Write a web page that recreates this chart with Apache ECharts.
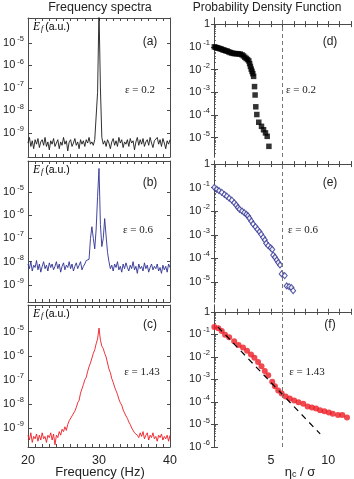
<!DOCTYPE html>
<html><head><meta charset="utf-8">
<script src="https://cdn.jsdelivr.net/npm/echarts@6/dist/echarts.min.js"></script>
<style>html,body{margin:0;padding:0;background:#fff}#c{width:354px;height:479px}</style>
</head><body><div id="c"></div>
<script>
// ---------- DATA ----------
// frequency axis samples (Hz)
const freqHz = [20.0,20.2,20.4,20.6,20.8,21.0,21.2,21.4,21.6,21.8,22.0,22.2,22.4,22.6,22.8,23.0,23.2,23.4,23.6,23.8,
24.0,24.2,24.4,24.6,24.8,25.0,25.2,25.4,25.6,25.8,26.0,26.2,26.4,26.6,26.8,27.0,27.2,27.4,27.6,27.8,
28.0,28.2,28.4,28.6,28.8,29.0,29.2,29.4,29.6,29.8,30.0,30.2,30.4,30.6,30.8,31.0,31.2,31.4,31.6,31.8,
32.0,32.2,32.4,32.6,32.8,33.0,33.2,33.4,33.6,33.8,34.0,34.2,34.4,34.6,34.8,35.0,35.2,35.4,35.6,35.8,
36.0,36.2,36.4,36.6,36.8,37.0,37.2,37.4,37.6,37.8,38.0,38.2,38.4,38.6,38.8,39.0,39.2,39.4,39.6,39.8,40.0];
// log10 of spectral energy E_f (a.u.)
const specA_log10 = [-9.45,-9.2,-9.6,-9.35,-9.7,-9.3,-9.5,-9.25,-9.65,-9.4,
-9.3,-9.55,-9.2,-9.6,-9.4,-9.75,-9.35,-9.5,-9.25,-9.6,
-9.45,-9.3,-9.7,-9.4,-9.55,-9.2,-9.5,-9.35,-9.8,-9.4,
-9.3,-9.6,-9.45,-9.25,-9.55,-9.4,-9.7,-9.3,-9.5,-9.35,
-9.6,-9.3,-9.45,-9.2,-9.5,-9.4,-9.55,-9.3,-9.25,-7.2,
-3.5,-7.0,-9.2,-9.5,-9.35,-9.6,-9.3,-9.45,-9.7,-9.4,
-9.25,-9.55,-9.35,-9.6,-9.2,-9.45,-9.3,-9.65,-9.4,-9.5,
-9.3,-9.6,-9.25,-9.45,-9.35,-9.75,-9.4,-9.2,-9.55,-9.3,
-9.5,-9.25,-9.6,-9.4,-9.3,-9.55,-9.2,-9.45,-9.65,-9.35,
-9.4,-9.2,-9.5,-9.3,-9.6,-9.25,-9.45,-9.7,-9.35,-9.5,-9.3];
const specB_log10 = [-8.1,-8.3,-8.0,-8.4,-8.15,-8.25,-7.95,-8.35,-8.1,-8.45,
-8.2,-8.0,-8.3,-8.15,-8.4,-8.05,-8.25,-8.1,-8.35,-8.2,
-8.0,-8.3,-8.1,-8.45,-8.2,-8.05,-8.35,-8.15,-8.25,-8.0,
-8.3,-8.1,-8.4,-8.2,-8.05,-8.3,-8.15,-8.0,-8.35,-8.2,
-8.1,-7.95,-8.0,-7.9,-7.0,-6.5,-7.0,-7.45,-6.6,-5.2,
-4.0,-6.4,-7.35,-7.0,-6.15,-6.9,-7.6,-8.0,-8.3,-8.15,
-8.4,-8.1,-8.25,-8.0,-8.35,-8.2,-8.45,-8.1,-8.3,-8.05,
-8.25,-8.4,-8.15,-8.3,-8.0,-8.35,-8.2,-8.5,-8.1,-8.3,
-8.2,-8.4,-8.05,-8.3,-8.15,-8.45,-8.25,-8.1,-8.35,-8.2,
-8.3,-8.1,-8.4,-8.25,-8.5,-8.15,-8.35,-8.2,-8.45,-8.1,-8.25];
const specC_log10 = [-9.3,-9.5,-9.2,-9.6,-9.35,-9.45,-9.25,-9.55,-9.3,-9.5,
-9.2,-9.45,-9.35,-9.6,-9.3,-9.4,-9.2,-9.5,-9.25,-9.7,
-9.3,-9.4,-9.15,-9.3,-9.05,-9.15,-8.95,-9.1,-8.85,-8.7,
-8.75,-8.5,-8.45,-8.3,-8.15,-7.95,-7.85,-7.55,-7.5,-7.2,
-7.0,-6.9,-6.65,-6.45,-6.3,-6.1,-5.9,-5.75,-5.5,-5.3,
-4.85,-5.35,-5.6,-5.7,-5.9,-6.05,-6.3,-6.55,-6.7,-6.95,
-7.1,-7.3,-7.45,-7.6,-7.8,-7.95,-8.05,-8.25,-8.3,-8.5,
-8.6,-8.75,-8.85,-9.0,-9.05,-9.2,-9.15,-9.3,-9.4,-9.2,
-9.35,-9.15,-9.45,-9.3,-9.2,-9.5,-9.3,-9.4,-9.2,-9.45,
-9.35,-9.55,-9.3,-9.4,-9.25,-9.5,-9.35,-9.45,-9.3,-9.55,-9.3];
// PDF panels: x = eta_c / sigma, y = log10 of probability density
const pdfD_x = [0.03,0.15,0.27,0.40,0.52,0.65,0.78,0.90,1.03,1.16,1.29,1.42,1.56,1.70,1.85,2.00,2.15,2.30,2.45,2.58,
2.70,2.82,2.94,3.05,3.12,3.19,3.26,3.33,3.40,3.47,3.55,3.60,3.66,3.75,3.92,4.16,4.34,4.51,4.66,4.81];
const pdfD_log10 = [-1.00,-1.02,-1.04,-1.06,-1.08,-1.10,-1.13,-1.15,-1.17,-1.19,-1.22,-1.25,-1.27,-1.29,-1.30,-1.30,-1.31,-1.32,-1.35,-1.40,
-1.46,-1.51,-1.56,-1.62,-1.74,-1.86,-1.98,-2.08,-2.18,-2.30,-2.75,-3.12,-3.64,-3.98,-4.32,-4.50,-4.65,-4.79,-4.94,-5.38];
const pdfE_x = [0.03,0.24,0.44,0.68,0.91,1.12,1.33,1.56,1.77,1.95,2.09,2.24,2.45,2.65,2.83,2.98,3.10,3.27,3.42,3.63,
3.81,3.98,4.13,4.31,4.45,4.57,4.75,4.96,5.10,5.19,5.34,5.49,5.63,5.78,5.93,6.19,6.37,6.58,6.78,6.93];
const pdfE_log10 = [-0.99,-1.07,-1.13,-1.20,-1.29,-1.36,-1.45,-1.53,-1.64,-1.74,-1.84,-1.92,-1.99,-2.06,-2.13,-2.20,-2.30,-2.42,-2.54,-2.66,
-2.77,-2.87,-2.98,-3.11,-3.22,-3.36,-3.46,-3.55,-3.62,-3.86,-3.95,-4.07,-4.18,-4.28,-4.66,-4.73,-5.17,-5.20,-5.24,-5.37];
const pdfF_x = [0.03,0.38,0.68,0.97,1.33,1.77,2.15,2.54,2.89,3.24,3.54,3.86,4.16,4.45,4.75,5.10,5.34,5.63,5.93,6.28,
6.64,7.02,7.40,7.82,8.20,8.58,8.94,9.29,9.67,10.06,10.40,10.86,11.24,11.65];
const pdfF_log10 = [-0.68,-0.73,-0.85,-1.02,-1.13,-1.31,-1.47,-1.59,-1.73,-1.90,-2.04,-2.23,-2.42,-2.63,-2.82,-3.10,-3.31,-3.49,-3.63,-3.76,
-3.85,-3.94,-4.01,-4.08,-4.20,-4.25,-4.29,-4.37,-4.41,-4.47,-4.53,-4.58,-4.58,-4.69];
const fitF_x = [0.35, 9.3];
const fitF_log10 = [-0.68, -5.42];
const thresholdX = 6;
// tick labels
const specTicks = [-9,-8,-7,-6,-5];
const pdfTicksDE = [-5,-4,-3,-2,-1,0];
const pdfTicksF = [-6,-5,-4,-3,-2,-1,0];
const freqLabels = [20,30,40];
const etaLabels = [5,10];
const epsLabels = ['ε = 0.2','ε = 0.6','ε = 1.43'];
const panelTags = ['(a)','(b)','(c)','(d)','(e)','(f)'];

// ---------- CHART ----------
const SANS = 'Liberation Sans, Arial, sans-serif';
const SERIF = 'Liberation Serif, Times New Roman, serif';
const AX = '#4a4a4a';
const zip = (xs, ys) => xs.map((x, i) => [x, ys[i]]);

const leftL = 28, leftW = 142, rightL = 214, rightW = 137;
const rows = [{top: 18, h: 139}, {top: 161, h: 141}, {top: 305, h: 142}];
const grids = [];
rows.forEach(r => grids.push({left: leftL, top: r.top, width: leftW, height: r.h, show: false}));
rows.forEach(r => grids.push({left: rightL, top: r.top, width: rightW, height: r.h, show: false}));

const specRanges = [[-10.07, -3.89], [-9.73, -3.68], [-9.79, -3.89]];
const pdfRanges = [[-5.85, 0.27], [-5.85, 0.13], [-6.0, 0.3]];

// log-decade minor tick positions (axis decoration only)
const minorTicks = (lo, hi) => {
  const out = [];
  for (let n = Math.floor(lo); n <= Math.ceil(hi); n++)
    for (let k = 2; k <= 9; k++) { const v = n + Math.log10(k); if (v > lo && v < hi) out.push(v); }
  return out;
};

const expFmt = v => v === 0 ? '1' : '{b|10}{s|' + v + '}';
const richLbl = {b: {fontSize: 11, fontFamily: SANS, color: '#222'},
                 s: {fontSize: 7.5, fontFamily: SANS, color: '#222', padding: [0, 0, 8, 2]}};

const xAxes = [], yAxes = [];
const minorYAxisIdx = [];
for (let g = 0; g < 6; g++) {
  const left = g < 3;
  const last = g === 2 || g === 5;
  const xBase = left ? {min: 20, max: 40, interval: 1} : {min: 0, max: 12, interval: 1};
  xAxes.push(Object.assign({type: 'value', gridIndex: g, position: 'bottom',
    axisLine: {show: true, lineStyle: {color: AX, width: 1}},
    axisTick: {show: true, inside: true, length: 3, lineStyle: {color: AX}},
    axisLabel: last ? {show: true, customValues: left ? freqLabels : etaLabels, fontSize: 12.5, fontFamily: SANS, color: '#222', margin: 7} : {show: false},
    splitLine: {show: false}}, xBase));
  xAxes.push(Object.assign({type: 'value', gridIndex: g, position: 'top',
    axisLine: {show: true, lineStyle: {color: AX, width: 1}},
    axisTick: {show: true, inside: true, length: 3, lineStyle: {color: AX}},
    axisLabel: {show: false}, splitLine: {show: false}}, xBase));
  const rng = left ? specRanges[g] : pdfRanges[g - 3];
  const ticks = left ? specTicks : (g === 5 ? pdfTicksF : pdfTicksDE);
  yAxes.push({type: 'value', gridIndex: g, position: 'left', min: rng[0], max: rng[1],
    axisLine: {show: true, lineStyle: {color: AX, width: 1}},
    axisTick: {show: true, inside: true, length: 4, customValues: ticks, lineStyle: {color: AX}},
    axisLabel: {show: true, customValues: ticks, formatter: expFmt, rich: richLbl, fontSize: 11, fontFamily: SANS, color: '#222', margin: 4},
    splitLine: {show: false}});
  yAxes.push({type: 'value', gridIndex: g, position: 'right', min: rng[0], max: rng[1],
    axisLine: {show: true, lineStyle: {color: AX, width: 1}},
    axisTick: {show: true, inside: true, length: 3, customValues: ticks, lineStyle: {color: AX}},
    axisLabel: {show: false}, splitLine: {show: false}});
}
// extra left axes carrying the log minor ticks of the PDF panels
for (let g = 3; g < 6; g++) {
  const rng = pdfRanges[g - 3];
  yAxes.push({type: 'value', gridIndex: g, position: 'left', offset: 0, min: rng[0], max: rng[1],
    axisLine: {show: false},
    axisTick: {show: true, inside: true, length: 2, customValues: minorTicks(rng[0], rng[1]), lineStyle: {color: AX, width: 0.8}},
    axisLabel: {show: false}, splitLine: {show: false}});
}

const vLine = {silent: true, symbol: 'none', label: {show: false},
  lineStyle: {type: [4, 3], color: '#777', width: 1}, data: [{xAxis: thresholdX}]};

const series = [
  {type: 'line', xAxisIndex: 0, yAxisIndex: 0, data: zip(freqHz, specA_log10), symbol: 'none',
   lineStyle: {color: '#1a1a1a', width: 0.9}, clip: true, animation: false},
  {type: 'line', xAxisIndex: 2, yAxisIndex: 2, data: zip(freqHz, specB_log10), symbol: 'none',
   lineStyle: {color: '#2e3192', width: 0.9}, clip: true, animation: false},
  {type: 'line', xAxisIndex: 4, yAxisIndex: 4, data: zip(freqHz, specC_log10), symbol: 'none',
   lineStyle: {color: '#ec1c24', width: 0.9}, clip: true, animation: false},
  {type: 'scatter', xAxisIndex: 6, yAxisIndex: 6, data: zip(pdfD_x, pdfD_log10), symbol: 'rect', symbolSize: 5.5,
   itemStyle: {color: '#000'}, markLine: vLine, animation: false},
  {type: 'scatter', xAxisIndex: 8, yAxisIndex: 8, data: zip(pdfE_x, pdfE_log10), symbol: 'diamond', symbolSize: [5, 6],
   itemStyle: {color: '#fff', borderColor: '#2e3192', borderWidth: 1.1}, markLine: vLine, animation: false},
  {type: 'line', xAxisIndex: 10, yAxisIndex: 10, data: zip(fitF_x, fitF_log10), symbol: 'none',
   lineStyle: {color: '#000', width: 1.2, type: [6, 5]}, animation: false},
  {type: 'scatter', xAxisIndex: 10, yAxisIndex: 10, data: zip(pdfF_x, pdfF_log10), symbol: 'circle', symbolSize: 6,
   itemStyle: {color: '#ec1c24'}, markLine: vLine, animation: false}
];

const graphic = [];
const txt = (x, y, text, font, extra) => graphic.push({type: 'text', x: x, y: y, silent: true,
  style: Object.assign({text: text, font: font, fill: '#222', textAlign: 'center', textVerticalAlign: 'middle'}, extra || {})});
txt(100, 8, 'Frequency spectra', '12.5px ' + SANS);
txt(267, 8, 'Probability Density Function', '12px ' + SANS);
txt(100, 472, 'Frequency (Hz)', '13px ' + SANS);
graphic.push({type: 'text', x: 300, y: 472, silent: true,
  style: {text: '{a|η}{c|c}{a| / σ}', textAlign: 'center', textVerticalAlign: 'middle', fill: '#222',
    rich: {a: {fontSize: 13, fontFamily: SANS, color: '#222'}, c: {fontSize: 9, fontFamily: SANS, color: '#222', padding: [5, 0, 0, 0]}}}});
const efY = [27, 170, 314];
const tagY = [42, 183, 325];
const epsY = [90, 230, 372];
const epsXL = [140, 138, 142];
const epsXR = [301, 303, 307];
for (let i = 0; i < 3; i++) {
  graphic.push({type: 'text', x: 33, y: efY[i], silent: true,
    style: {text: '{e|E}{f|f}{u|(a.u.)}', textAlign: 'left', textVerticalAlign: 'middle',
      rich: {e: {fontSize: 11.5, fontFamily: SERIF, fontStyle: 'italic', color: '#222'},
             f: {fontSize: 8, fontFamily: SERIF, fontStyle: 'italic', color: '#222', padding: [4, 2, 0, 1]},
             u: {fontSize: 10.5, fontFamily: SANS, color: '#222'}}}});
  txt(150, tagY[i], panelTags[i], '12px ' + SANS);
  txt(330, tagY[i], panelTags[i + 3], '12px ' + SANS);
  txt(epsXL[i], epsY[i], epsLabels[i], '11px ' + SERIF);
  txt(epsXR[i], epsY[i], epsLabels[i], '11px ' + SERIF);
}

const chart = echarts.init(document.getElementById('c'), null, {renderer: 'canvas'});
chart.setOption({animation: false, backgroundColor: '#fff', grid: grids, xAxis: xAxes, yAxis: yAxes, series: series, graphic: graphic});
</script></body></html>
